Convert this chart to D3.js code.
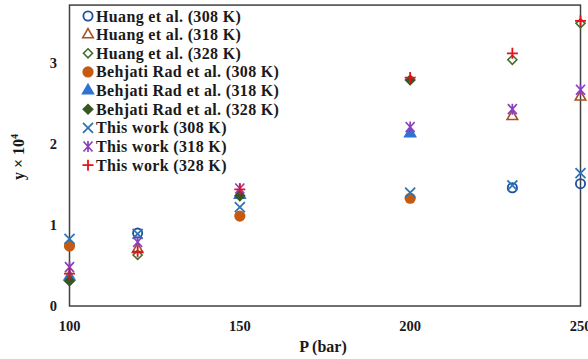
<!DOCTYPE html>
<html><head><meta charset="utf-8">
<script src="https://cdn.jsdelivr.net/npm/d3@7"></script>
<style>body{margin:0;background:#fff}svg{display:block}</style>
</head><body>
<script>
const xTicks = [100, 150, 200, 250];
const yTicks = [0, 1, 2, 3];
const seriesNames = [
  "Huang et al. (308 K)", "Huang et al. (318 K)", "Huang et al. (328 K)",
  "Behjati Rad et al. (308 K)", "Behjati Rad et al. (318 K)", "Behjati Rad et al. (328 K)",
  "This work (308 K)", "This work (318 K)", "This work (328 K)"
];
const huangP = [120, 230, 250];
const huang308 = [0.90, 1.46, 1.51];
const huang318 = [0.70, 2.34, 2.58];
const huang328 = [0.63, 3.04, 3.49];
const behjatiP = [100, 150, 200];
const behjati308 = [0.74, 1.11, 1.33];
const behjati318 = [0.36, 1.37, 2.13];
const behjati328 = [0.31, 1.36, 2.79];
const thisP = [100, 120, 150, 200, 230, 250];
const this308 = [0.83, 0.89, 1.22, 1.40, 1.49, 1.64];
const this318 = [0.48, 0.79, 1.45, 2.21, 2.43, 2.67];
const this328 = [0.40, 0.67, 1.44, 2.82, 3.12, 3.52];

const styles = [
  {shape:"circle", fill:"none", stroke:"#1f4e9c"},
  {shape:"triangle", fill:"none", stroke:"#a5501c"},
  {shape:"diamond", fill:"none", stroke:"#3f6e2a"},
  {shape:"circleF", fill:"#c55a11", stroke:"none"},
  {shape:"triangleF", fill:"#2f73d0", stroke:"none"},
  {shape:"diamondF", fill:"#375623", stroke:"none"},
  {shape:"x", fill:"none", stroke:"#2e75b6"},
  {shape:"star", fill:"none", stroke:"#8a3fc0"},
  {shape:"plus", fill:"none", stroke:"#e8101a"}
];
const seriesData = [
  [huangP, huang308], [huangP, huang318], [huangP, huang328],
  [behjatiP, behjati308], [behjatiP, behjati318], [behjatiP, behjati328],
  [thisP, this308], [thisP, this318], [thisP, this328]
];

const W = 588, H = 359;
const svg = d3.select("body").append("svg").attr("width", W).attr("height", H);
const x = d3.scaleLinear().domain([100, 250]).range([69.5, 580.5]);
const y = d3.scaleLinear().domain([0, 3]).range([306, 63]);
const yTop = y(3.715);

function drawMarker(g, s, cx, cy) {
  const sw = 1.6;
  switch (s.shape) {
    case "circle": g.append("circle").attr("cx", cx).attr("cy", cy).attr("r", 4.6).attr("fill","none").attr("stroke", s.stroke).attr("stroke-width", 1.8); break;
    case "circleF": g.append("circle").attr("cx", cx).attr("cy", cy).attr("r", 5.6).attr("fill", s.fill); break;
    case "triangle": g.append("path").attr("d", d3.symbol(d3.symbolTriangle, 48)()).attr("transform", `translate(${cx},${cy})`).attr("fill","none").attr("stroke", s.stroke).attr("stroke-width", sw); break;
    case "triangleF": g.append("path").attr("d", d3.symbol(d3.symbolTriangle, 80)()).attr("transform", `translate(${cx},${cy})`).attr("fill", s.fill); break;
    case "diamond": g.append("path").attr("d", `M0,-4.5L4.5,0L0,4.5L-4.5,0Z`).attr("transform", `translate(${cx},${cy})`).attr("fill","none").attr("stroke", s.stroke).attr("stroke-width", sw); break;
    case "diamondF": g.append("path").attr("d", `M0,-5.8L5.8,0L0,5.8L-5.8,0Z`).attr("transform", `translate(${cx},${cy})`).attr("fill", s.fill); break;
    case "x": g.append("path").attr("d", `M-5,-5L5,5M-5,5L5,-5`).attr("transform", `translate(${cx},${cy})`).attr("stroke", s.stroke).attr("stroke-width", 1.8); break;
    case "star": g.append("path").attr("d", `M-4.5,-5L4.5,5M-4.5,5L4.5,-5M0,-5.5L0,5.5`).attr("transform", `translate(${cx},${cy})`).attr("stroke", s.stroke).attr("stroke-width", 1.7); break;
    case "plus": g.append("path").attr("d", `M-5.5,0L5.5,0M0,-5.5L0,5.5`).attr("transform", `translate(${cx},${cy})`).attr("stroke", s.stroke).attr("stroke-width", 1.8); break;
  }
}

// frame
const axisColor = "#404040";
svg.append("rect").attr("x", x(100)).attr("y", yTop).attr("width", x(250) - x(100)).attr("height", y(0) - yTop)
  .attr("fill", "none").attr("stroke", axisColor).attr("stroke-width", 1.5);

// ticks labels
const font = "'Liberation Serif', 'Times New Roman', serif";
svg.selectAll(".xt").data(xTicks).enter().append("text")
  .attr("x", d => x(d)).attr("y", 331).attr("text-anchor", "middle")
  .attr("font-family", font).attr("font-weight", "bold").attr("font-size", 14.5).attr("fill", "#1a1a1a").text(d => d);
svg.selectAll(".yt").data(yTicks).enter().append("text")
  .attr("x", 57).attr("y", d => y(d) + 5).attr("text-anchor", "end")
  .attr("font-family", font).attr("font-weight", "bold").attr("font-size", 14.5).attr("fill", "#1a1a1a").text(d => d);

// axis titles
svg.append("text").attr("x", 323).attr("y", 352).attr("text-anchor", "middle")
  .attr("font-family", font).attr("font-weight", "bold").attr("font-size", 16).attr("fill", "#1a1a1a").text("P (bar)");
const yl = svg.append("text").attr("transform", `translate(24,157) rotate(-90)`).attr("text-anchor", "middle")
  .attr("font-family", font).attr("font-weight", "bold").attr("font-size", 16).attr("fill", "#1a1a1a");
yl.append("tspan").text("y × 10");
yl.append("tspan").attr("dy", -6).attr("font-size", 10).text("4");

// data
seriesData.forEach((sd, i) => {
  const g = svg.append("g");
  sd[0].forEach((p, j) => drawMarker(g, styles[i], x(p), y(sd[1][j])));
});

// legend
const lg = svg.append("g");
seriesNames.forEach((name, i) => {
  const ly = 16 + i * 18.65;
  drawMarker(lg, styles[i], 88, ly);
  lg.append("text").attr("x", 96).attr("y", ly + 5.5)
    .attr("font-family", font).attr("font-weight", "bold").attr("font-size", 16).attr("letter-spacing", 0.35)
    .attr("fill", "#1a1a1a").text(name);
});
</script>
</body></html>
